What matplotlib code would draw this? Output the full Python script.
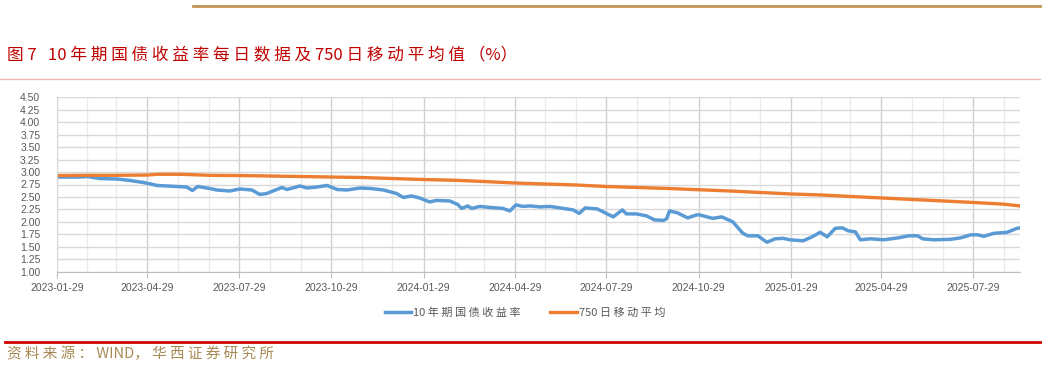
import matplotlib.pyplot as plt
from matplotlib.lines import Line2D
import pandas as pd

plt.rcParams['font.family'] = ['Noto Sans CJK SC', 'DejaVu Sans']

# 10年期国债收益率
yield_dates = ['2023-01-29', '2023-02-21', '2023-02-28', '2023-03-13', '2023-03-30', '2023-04-12',
               '2023-04-25', '2023-05-09', '2023-05-28', '2023-06-07', '2023-06-13', '2023-06-18',
               '2023-06-30', '2023-07-07', '2023-07-20', '2023-07-30', '2023-08-11', '2023-08-19',
               '2023-08-26', '2023-09-01', '2023-09-10', '2023-09-15', '2023-09-28', '2023-10-05',
               '2023-10-15', '2023-10-25', '2023-11-04', '2023-11-14', '2023-11-27', '2023-12-07',
               '2023-12-20', '2024-01-02', '2024-01-09', '2024-01-17', '2024-01-25', '2024-02-04',
               '2024-02-11', '2024-02-24', '2024-03-03', '2024-03-07', '2024-03-13', '2024-03-17',
               '2024-03-25', '2024-04-04', '2024-04-17', '2024-04-24', '2024-04-30', '2024-05-07',
               '2024-05-14', '2024-05-24', '2024-06-03', '2024-06-16', '2024-06-26', '2024-07-02',
               '2024-07-08', '2024-07-20', '2024-07-26', '2024-08-05', '2024-08-14', '2024-08-18',
               '2024-08-28', '2024-09-07', '2024-09-15', '2024-09-24', '2024-09-27', '2024-09-30',
               '2024-10-08', '2024-10-18', '2024-10-27', '2024-10-30', '2024-11-12', '2024-11-21',
               '2024-12-02', '2024-12-12', '2024-12-17', '2024-12-27', '2025-01-05', '2025-01-13',
               '2025-01-21', '2025-01-28', '2025-02-10', '2025-02-19', '2025-02-27', '2025-03-06',
               '2025-03-14', '2025-03-21', '2025-03-27', '2025-04-03', '2025-04-08', '2025-04-18',
               '2025-05-01', '2025-05-16', '2025-05-26', '2025-06-04', '2025-06-09', '2025-06-20',
               '2025-07-07', '2025-07-17', '2025-07-27', '2025-08-03', '2025-08-09', '2025-08-19',
               '2025-09-01', '2025-09-11', '2025-09-14']
yield_values = [2.90, 2.90, 2.91, 2.87, 2.86, 2.83,
                2.79, 2.73, 2.71, 2.70, 2.63, 2.71,
                2.67, 2.64, 2.62, 2.66, 2.64, 2.55,
                2.57, 2.62, 2.69, 2.65, 2.72, 2.68,
                2.70, 2.73, 2.65, 2.64, 2.68, 2.67,
                2.64, 2.57, 2.49, 2.52, 2.48, 2.40,
                2.43, 2.42, 2.35, 2.27, 2.32, 2.27,
                2.31, 2.29, 2.27, 2.22, 2.34, 2.31,
                2.32, 2.30, 2.31, 2.27, 2.24, 2.17,
                2.28, 2.26, 2.20, 2.10, 2.24, 2.16,
                2.16, 2.12, 2.04, 2.03, 2.06, 2.22,
                2.18, 2.08, 2.14, 2.14, 2.07, 2.10,
                2.00, 1.77, 1.72, 1.72, 1.59, 1.66,
                1.67, 1.64, 1.62, 1.70, 1.79, 1.70,
                1.87, 1.88, 1.82, 1.80, 1.64, 1.66,
                1.64, 1.68, 1.72, 1.72, 1.66, 1.64,
                1.65, 1.68, 1.74, 1.74, 1.71, 1.77,
                1.79, 1.87, 1.88]

# 750日移动平均
ma_dates = ['2023-01-29', '2023-02-28', '2023-03-29', '2023-04-29', '2023-05-09', '2023-05-29',
            '2023-06-09', '2023-06-29', '2023-07-29', '2023-08-29', '2023-09-29', '2023-10-29',
            '2023-11-29', '2023-12-29', '2024-01-29', '2024-02-29', '2024-03-29', '2024-04-29',
            '2024-05-29', '2024-06-29', '2024-07-29', '2024-08-29', '2024-09-29', '2024-10-29',
            '2024-11-29', '2024-12-29', '2025-01-29', '2025-02-28', '2025-03-29', '2025-04-29',
            '2025-05-29', '2025-06-29', '2025-07-29', '2025-08-29', '2025-09-14']
ma_values = [2.93, 2.935, 2.935, 2.94, 2.955, 2.955,
             2.95, 2.935, 2.93, 2.92, 2.91, 2.90,
             2.89, 2.87, 2.85, 2.835, 2.81, 2.78,
             2.76, 2.74, 2.71, 2.69, 2.67, 2.645,
             2.62, 2.59, 2.56, 2.54, 2.51, 2.48,
             2.45, 2.42, 2.39, 2.355, 2.32]

tick_labels = ['2023-01-29', '2023-04-29', '2023-07-29', '2023-10-29', '2024-01-29', '2024-04-29',
               '2024-07-29', '2024-10-29', '2025-01-29', '2025-04-29', '2025-07-29']

yield_dates = pd.to_datetime(yield_dates)
ma_dates = pd.to_datetime(ma_dates)
start = pd.Timestamp('2023-01-29')
end = pd.Timestamp('2025-09-14')
minor_dates = [start + pd.DateOffset(months=i) for i in range(32)]

blue = '#5B9BD5'
orange = '#ED7D31'
gray_txt = '#595959'

fig = plt.figure(figsize=(10.64, 3.68), dpi=100)

# 顶部/分隔线
fig.add_artist(Line2D([193/1064, 1040/1064], [1-6/368, 1-6/368], color='#C39457', lw=2))
fig.add_artist(Line2D([0, 1040/1064], [1-79/368, 1-79/368], color='#F2B8B8', lw=1))
fig.add_artist(Line2D([5/1064, 1040/1064], [1-341.5/368, 1-341.5/368], color='#D00000', lw=2))

fig.text(7/1064, 1-55/368, '图 7   10 年 期 国 债 收 益 率 每 日 数 据 及 750 日 移 动 平 均 值 （%）',
         color='#C00000', fontsize=12, va='center', ha='left')
fig.text(7/1064, 1-354/368, '资 料 来 源 ： WIND， 华 西 证 券 研 究 所',
         color='#A88A55', fontsize=10.5, va='center', ha='left')

ax = fig.add_axes([57/1064, 1-271.7/368, 963/1064, (271.7-97.3)/368])

ax.plot(yield_dates, yield_values, color=blue, lw=2.5, label='10 年 期 国 债 收 益 率',
        solid_joinstyle='round')
ax.plot(ma_dates, ma_values, color=orange, lw=2.4, label='750 日 移 动 平 均')

ax.set_xlim(start, end)
ax.set_ylim(1.0, 4.5)
ax.set_yticks([1.0 + 0.25 * i for i in range(15)])
ax.yaxis.set_major_formatter(plt.FormatStrFormatter('%.2f'))
ax.set_xticks(pd.to_datetime(tick_labels))
ax.set_xticklabels(tick_labels)
ax.set_xticks(minor_dates, minor=True)

ax.grid(axis='y', color='#D9D9D9', lw=1)
ax.grid(axis='x', which='major', color='#D0D0D0', lw=1)
ax.grid(axis='x', which='minor', color='#EBEBEB', lw=1)
ax.set_axisbelow(True)

for s in ['top', 'right']:
    ax.spines[s].set_visible(False)
ax.spines['left'].set_color('#D9D9D9')
ax.spines['bottom'].set_color('#BFBFBF')

ax.tick_params(axis='y', length=0, pad=12, labelsize=7.5, labelcolor=gray_txt)
ax.tick_params(axis='x', which='major', length=4, color='#BFBFBF', pad=4,
               labelsize=7.5, labelcolor=gray_txt)
ax.tick_params(axis='x', which='minor', length=0)
for lbl in ax.get_xticklabels() + ax.get_yticklabels():
    lbl.set_family(['Liberation Sans', 'DejaVu Sans'])

fig.legend(loc='center', bbox_to_anchor=(525/1064, 1-312.7/368), ncol=2, frameon=False,
           fontsize=8, labelcolor=gray_txt, handlelength=2.4, handletextpad=0.2,
           columnspacing=2.6)

fig.savefig('out.png', dpi=100)
